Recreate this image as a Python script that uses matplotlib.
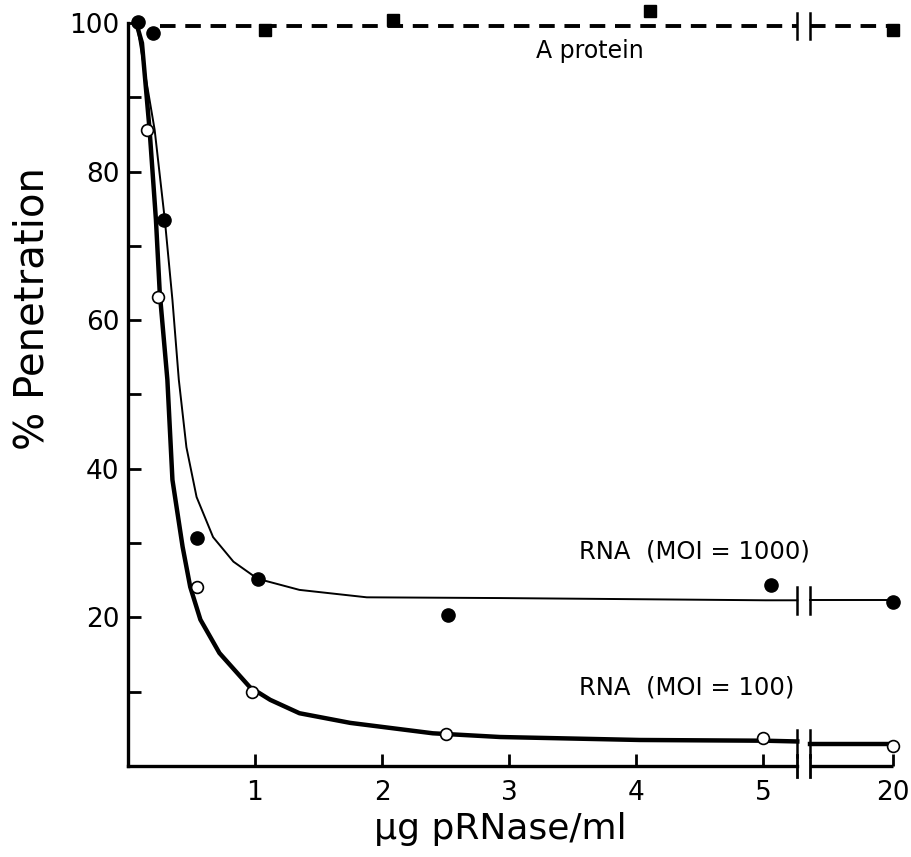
import numpy as np
import matplotlib.pyplot as plt

# --- data (x in ug pRNase/ml, y in % penetration) ---
prot_x = [1.08, 2.09, 4.11, 20]
prot_y = [99.1, 100.4, 101.6, 99.1]
prot_fit_x = [0.25, 5.27, 20]
prot_fit_y = [99.6, 99.6, 99.6]

moi1000_x = [0.08, 0.20, 0.28, 0.54, 1.02, 2.52, 5.06, 20]
moi1000_y = [100.1, 98.7, 73.5, 30.7, 25.2, 20.3, 24.4, 22.1]
moi1000_fit_x = [0.07, 0.21, 0.29, 0.35, 0.40, 0.46, 0.54, 0.67, 0.83, 1.02,
                 1.35, 1.88, 2.93, 5.02, 5.27, 20]
moi1000_fit_y = [99.7, 85.6, 73.5, 62.7, 52.0, 42.9, 36.2, 30.8, 27.5, 25.2,
                 23.7, 22.7, 22.6, 22.3, 22.3, 22.3]

moi100_x = [0.15, 0.24, 0.54, 0.98, 2.50, 5.00, 20]
moi100_y = [85.6, 63.1, 24.1, 10.0, 4.3, 3.8, 2.7]
moi100_fit_x = [0.07, 0.11, 0.17, 0.22, 0.25, 0.31, 0.35, 0.43, 0.49, 0.57,
                0.72, 0.96, 1.12, 1.35, 1.75, 2.40, 2.93, 4.03, 5.02, 5.27, 20]
moi100_fit_y = [99.7, 97.3, 85.6, 73.5, 63.7, 52.0, 38.5, 29.5, 24.1, 19.7,
                15.2, 10.6, 8.9, 7.1, 5.8, 4.4, 3.9, 3.5, 3.4, 3.3, 3.0]

x_ticks = [1, 2, 3, 4, 5, 20]
y_ticks = [20, 40, 60, 80, 100]

# broken axis: the value 20 is drawn at position 6.02, gap between 5.27 and 5.37
BRK_LO, BRK_HI, POS20 = 5.27, 5.37, 6.02


def xpos(v):
    v = np.asarray(v, dtype=float)
    return np.where(v > 10, POS20, v)


def broken_line(ax, x, y, **kw):
    x = xpos(x)
    y = np.asarray(y, dtype=float)
    left = x <= BRK_LO
    ax.plot(x[left], y[left], solid_joinstyle='round', **kw)
    # right piece starts just after the gap
    ax.plot([BRK_HI, x[-1]], [y[-1], y[-1]], **kw)
    for bx in (BRK_LO, BRK_HI):
        ax.plot([bx, bx], [y[-1] - 1.8, y[-1] + 1.8], color='black', lw=1.8)


fig = plt.figure(figsize=(9.11, 8.57), dpi=100)
ax = fig.add_axes([0.1405, 0.1062, 0.8504, 0.8887])

# fitted curves
broken_line(ax, prot_fit_x, prot_fit_y, color='black', lw=2.8, ls=(0, (4, 2.5)))
broken_line(ax, moi1000_fit_x, moi1000_fit_y, color='black', lw=1.4)
broken_line(ax, moi100_fit_x, moi100_fit_y, color='black', lw=3.2)

# data points
ax.plot(xpos(prot_x), prot_y, 's', color='black', ms=8, zorder=5)
ax.plot(xpos(moi1000_x), moi1000_y, 'o', color='black', ms=9.5, zorder=5)
ax.plot(xpos(moi100_x), moi100_y, 'o', mfc='white', mec='black', mew=1.2,
        ms=8.5, zorder=5)

ax.text(3.64, 96.2, 'A protein', fontsize=17, ha='center', va='center')
ax.text(3.55, 28.8, 'RNA  (MOI = 1000)', fontsize=17.5, ha='left', va='center')
ax.text(3.55, 10.5, 'RNA  (MOI = 100)', fontsize=17.5, ha='left', va='center')

ax.set_xlim(0, 6.1)
ax.set_ylim(0, 102.5)

# axes styling
for s in ('top', 'right'):
    ax.spines[s].set_visible(False)
ax.spines['left'].set_linewidth(2.4)
ax.spines['bottom'].set_linewidth(2.4)
ax.spines['left'].set_bounds(0, 100)
ax.spines['bottom'].set_bounds(0, BRK_LO)
xt = ax.get_xaxis_transform()
ax.plot([BRK_HI, POS20], [0, 0], color='black', lw=2.4, transform=xt,
        clip_on=False, solid_capstyle='butt')
for bx in (BRK_LO, BRK_HI):
    ax.plot([bx, bx], [-0.015, 0.015], color='black', lw=2, transform=xt,
            clip_on=False)

ax.set_xticks(xpos(x_ticks))
ax.set_xticklabels([str(t) for t in x_ticks])
ax.set_yticks(y_ticks)
ax.set_yticks([10, 30, 50, 70, 90], minor=True)
ax.tick_params(axis='both', which='both', direction='in', width=2,
               labelsize=19)
ax.tick_params(axis='x', length=9, pad=10)
ax.tick_params(axis='y', which='major', length=9, pad=6)
ax.tick_params(axis='y', which='minor', length=9)

ax.set_ylabel('% Penetration', fontsize=29)
ax.yaxis.set_label_coords(-0.098, 0.60)
ax.set_xlabel('µg pRNase/ml', fontsize=26)
ax.xaxis.set_label_coords(0.48, -0.060)

fig.savefig('out.png', dpi=100)
